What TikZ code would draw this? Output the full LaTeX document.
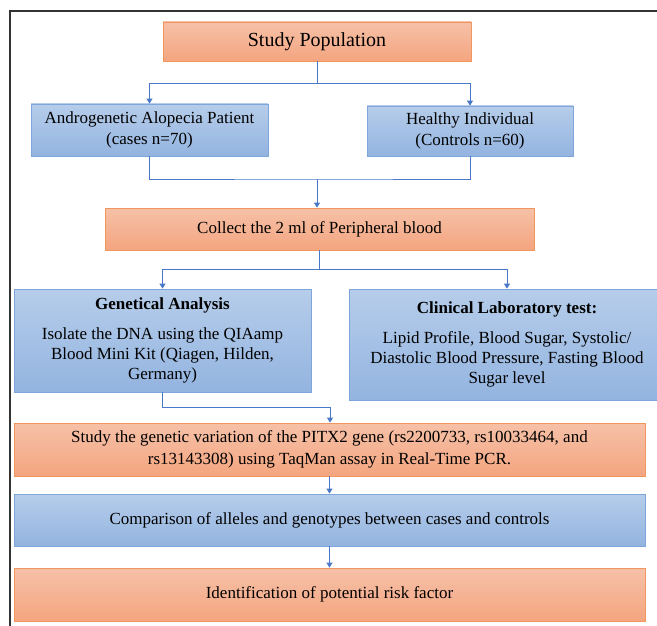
\documentclass[tikz,border=0pt]{standalone}
\usepackage{fontspec}
\setmainfont{Liberation Serif}
\usetikzlibrary{arrows.meta}
\definecolor{oTop}{HTML}{F6C1A8}
\definecolor{oBot}{HTML}{F4A57F}
\definecolor{oEdge}{HTML}{F0965E}
\definecolor{bTop}{HTML}{B6CDEA}
\definecolor{bBot}{HTML}{93B4E0}
\definecolor{bEdge}{HTML}{7EA6DA}
\definecolor{conn}{HTML}{4A78C8}
\begin{document}
\begin{tikzpicture}[x=1pt,y=1pt,
  box/.style={rectangle, inner sep=0pt, align=center, font=\fontsize{17}{21}\selectfont, line width=0.8pt},
  obox/.style={box, draw=oEdge, top color=oTop, bottom color=oBot},
  bbox/.style={box, draw=bEdge, top color=bTop, bottom color=bBot},
  link/.style={draw=conn, line width=0.9pt},
  arr/.style={link, -{Triangle[width=6pt,length=5pt]}},
  frame/.style={draw=black!80, line width=1.2pt}]
\useasboundingbox (0,0) rectangle (657,-626);
\draw[frame] (10,-626) -- (10,-11) -- (657,-11);

\node[obox, minimum width=308pt, minimum height=39pt, font=\fontsize{20}{24}\selectfont] (sp) at (317,-41.5) {Study Population};
\node[bbox, minimum width=237pt, minimum height=52pt] (pat) at (149.5,-130) {Androgenetic Alopecia Patient\\(cases n=70)};
\node[bbox, minimum width=206pt, minimum height=50pt] (hea) at (470,-131) {Healthy Individual\\(Controls n=60)};
\node[obox, minimum width=429pt, minimum height=42pt] (col) at (319.5,-229) {Collect the 2 ml of Peripheral blood};
\node[bbox, minimum width=297pt, minimum height=103pt, font=\fontsize{17}{20}\selectfont] (gen) at (162.5,-340.5) {\textbf{Genetical Analysis}\\[10pt]Isolate the DNA using the QIAamp\\Blood Mini Kit (Qiagen, Hilden,\\Germany)};
\node[bbox, minimum width=316pt, minimum height=111pt, font=\fontsize{17}{20}\selectfont] (cli) at (507,-344.5) {\textbf{Clinical Laboratory test:}\\[10pt]Lipid Profile, Blood Sugar, Systolic/\\Diastolic Blood Pressure, Fasting Blood\\Sugar level};
\node[obox, minimum width=631pt, minimum height=53pt, font=\fontsize{17}{22}\selectfont] (stu) at (329.5,-449.5) {Study the genetic variation of the PITX2 gene (rs2200733, rs10033464, and\\rs13143308) using TaqMan assay in Real-Time PCR.};
\node[bbox, minimum width=631pt, minimum height=52pt] (com) at (329.5,-520) {Comparison of alleles and genotypes between cases and controls};
\node[obox, minimum width=631pt, minimum height=53pt] (ide) at (329.5,-594.5) {Identification of potential risk factor};

\coordinate (j1) at (317,-83);
\draw[link] (sp.south) -- (j1);
\draw[arr] (j1) -| (pat.north);
\draw[arr] (j1) -| (hea.north);

\coordinate (j2) at (317,-179);
\draw[link] (pat.south) |- (j2) -| (hea.south);
\draw[arr] (j2) -- (j2 |- col.north);

\coordinate (j3) at (320,-269);
\draw[link] (col.south) -- (col.south |- j3);
\draw[arr] (col.south |- j3) -| (gen.north);
\draw[arr] (col.south |- j3) -| (cli.north);

\coordinate (j4) at (330,-407);
\draw[arr] (gen.south) |- (j4) -- (j4 |- stu.north);
\draw[arr] (stu.south) -- (com.north);
\draw[arr] (com.south) -- (ide.north);
\end{tikzpicture}
\end{document}
